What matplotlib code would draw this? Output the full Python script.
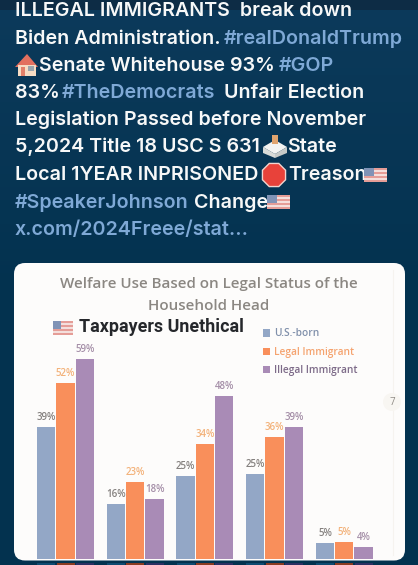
import numpy as np
import matplotlib
matplotlib.use('Agg')
import matplotlib.pyplot as plt
import matplotlib.patches as mpatches
from matplotlib.colors import LinearSegmentedColormap
from matplotlib.patches import FancyBboxPatch, Rectangle, Polygon, RegularPolygon

W, H = 418, 565

# chart data
series_names = ['U.S.-born', 'Legal Immigrant', 'Illegal Immigrant']
us_born = [39, 16, 24.5, 25, 4.5]
legal = [52, 22.7, 34, 36, 5]
illegal = [59, 17.6, 48, 39, 3.5]
us_labels = ['39%', '16%', '25%', '25%', '5%']
legal_labels = ['52%', '23%', '34%', '36%', '5%']
illegal_labels = ['59%', '18%', '48%', '39%', '4%']

title_lines = ['Welfare Use Based on Legal Status of the', 'Household Head']

# post text: (text, colour, x) per line, with the line's centre y
WHITE = '#f7f8f8'
LINK = '#7fa9d6'
post_lines = [
    (11, [('ILLEGAL IMMIGRANTS  break down', WHITE, 15)]),
    (39, [('Biden Administration.', WHITE, 15), ('#realDonaldTrump', LINK, 224)]),
    (66, [('Senate Whitehouse 93% ', WHITE, 39), ('#GOP', LINK, 279)]),
    (93, [('83% ', WHITE, 15), ('#TheDemocrats', LINK, 62), (' Unfair Election', WHITE, 219)]),
    (120, [('Legislation Passed before November', WHITE, 15)]),
    (147, [('5,2024 Title 18 USC S 631', WHITE, 15), ('State', WHITE, 287)]),
    (175, [('Local 1YEAR INPRISONED', WHITE, 15), ('Treason', WHITE, 288)]),
    (203, [('#SpeakerJohnson', LINK, 15), (' Change', WHITE, 189)]),
    (230, [('x.com/2024Freee/stat...', LINK, 15)]),
]


def flag(ax, x, y, w=23, h=14, z=3):
    # small washed-out US flag emoji
    ax.add_patch(Rectangle((x, y), w, h, fc='#f4dfdc', ec='none', zorder=z))
    for i in range(4):
        ax.add_patch(Rectangle((x, y + i * h / 3.6), w, h / 7.5, fc='#e59d97', ec='none', zorder=z))
    ax.add_patch(Rectangle((x, y), w * 0.42, h * 0.55, fc='#8093b6', ec='none', zorder=z))


fig = plt.figure(figsize=(W / 100, H / 100), dpi=100, facecolor='#0a3655')

# page layer in pixel coordinates
bg = fig.add_axes([0, 0, 1, 1])
bg.set_zorder(0)
shade = LinearSegmentedColormap.from_list('shade', ['#0c3a5b', '#03324f'])
bg.imshow(np.linspace(0, 1, 100).reshape(-1, 1), cmap=shade, extent=(0, W, 300, 0), aspect='auto', zorder=0)
bg.add_patch(Rectangle((0, 300), W, H - 300, fc='#03324f', ec='none', zorder=0))
bg.add_patch(Rectangle((0, 0), W, 10, fc='#0d2c45', ec='none', zorder=0.5))
bg.set_xlim(0, W)
bg.set_ylim(H, 0)
bg.axis('off')

for y, segs in post_lines:
    for txt, col, x in segs:
        bg.text(x, y, txt, color=col, fontsize=14.15, family='Inter', weight=600,
                va='center', ha='left')

# house emoji
bg.add_patch(Polygon([[15, 67], [27, 54], [38, 67]], fc='#e2705f', ec='none'))
bg.add_patch(Rectangle((18, 65), 18, 11, fc='#f6dcc4', ec='none'))
bg.add_patch(Rectangle((21, 67), 4, 9, fc='#e2806a', ec='none'))
bg.add_patch(Rectangle((28, 66), 6, 5, fc='#9aa5ad', ec='none'))
# ballot box emoji
bg.add_patch(Polygon([[263, 147], [275, 140], [287, 147], [275, 154]], fc='#f3f4f2', ec='none'))
bg.add_patch(Polygon([[263, 147], [275, 154], [275, 158], [263, 153]], fc='#d8dbd8', ec='none'))
bg.add_patch(Polygon([[287, 147], [275, 154], [275, 158], [287, 153]], fc='#c6cac8', ec='none'))
bg.add_patch(Rectangle((272, 135), 6, 9, fc='#e0a46e', ec='none'))
# stop sign emoji
bg.add_patch(RegularPolygon((274, 175), 8, radius=12.5, orientation=np.pi / 8, fc='#e8423a', ec='#f2d5d0', lw=1))
# flags in the text
flag(bg, 364, 168)
flag(bg, 267, 195)

# white card
bg.add_patch(FancyBboxPatch((14, 263), 391, 297.5, boxstyle='round,pad=0,rounding_size=11',
                            fc='#fdfcfb', ec='none', zorder=1))
bg.plot([393, 393], [270, 555], color='#f6f3ef', lw=0.8, zorder=1.5)
bg.add_patch(mpatches.Circle((392, 402), 9, fc='#f8f6f2', ec='none', zorder=1.6))
bg.text(392, 402.5, '7', color='#8f8b85', fontsize=7, family='Open Sans', ha='center', va='center', zorder=3)

for i, line in enumerate(title_lines):
    bg.text(209, 284 + 22 * i, line, color='#8b8782', fontsize=10.9, family='Open Sans', weight=600,
            ha='center', va='center', zorder=3)
bg.text(79, 327, 'Taxpayers Unethical', color='#25272b', fontsize=12.9, family='Roboto', weight='bold',
        ha='left', va='center', zorder=3)
flag(bg, 53, 321, 20, 14)

# chart axes: 5 groups over the card, one group = 69.7 px, one % = 3.38 px
left, right, base, top = 14.0, 405.0, 558.5, 340.0
ax = fig.add_axes([left / W, 1 - base / H, (right - left) / W, (base - top) / H])
ax.patch.set_alpha(0)
ax.set_zorder(2)
ax.set_xlim((left - 65.5) / 69.7, (right - 65.5) / 69.7)
ax.set_ylim(0, (base - top) / 3.38)
ax.axis('off')

colors = ['#93a7c6', '#f98f5b', '#a98bb6']
label_colors = ['#85817f', '#f3b27a', '#a58fa8']
x = np.arange(5)
offset = 19.3 / 69.7
width = 18.3 / 69.7
groups = [us_born, legal, illegal]
labels = [us_labels, legal_labels, illegal_labels]
handles = []
for i in range(3):
    bars = ax.bar(x + (i - 1) * offset, groups[i], width, color=colors[i], label=series_names[i])
    handles.append(bars)
    for b, t in zip(bars, labels[i]):
        ax.text(b.get_x() + b.get_width() / 2, b.get_height() + 1.2, t, color=label_colors[i], fontsize=7,
                family='Open Sans', weight=600, ha='center', va='bottom')

leg = ax.legend(handles=handles, loc='upper left', bbox_to_anchor=(263 / W, 1 - 328.5 / H),
                bbox_transform=fig.transFigure, frameon=False, handlelength=0.7, handleheight=0.7,
                handletextpad=0.35, labelspacing=0.72, borderpad=0, borderaxespad=0,
                prop={'family': 'Open Sans', 'weight': 600, 'size': 7.3},
                labelcolor=['#8090ab', '#f5a36f', '#7d6a88'])

# bars of the next slide peeking out under the card
for i, c in enumerate(['#0e4a70', '#8a3a20', '#2b2f62']):
    for xp in x:
        cx = 65.5 + (xp + (i - 1) * offset) * 69.7
        bg.add_patch(Rectangle((cx - 9, 563), 18, 2, fc=c, ec='none', zorder=1))

fig.savefig('out.png', dpi=100, facecolor=fig.get_facecolor())
